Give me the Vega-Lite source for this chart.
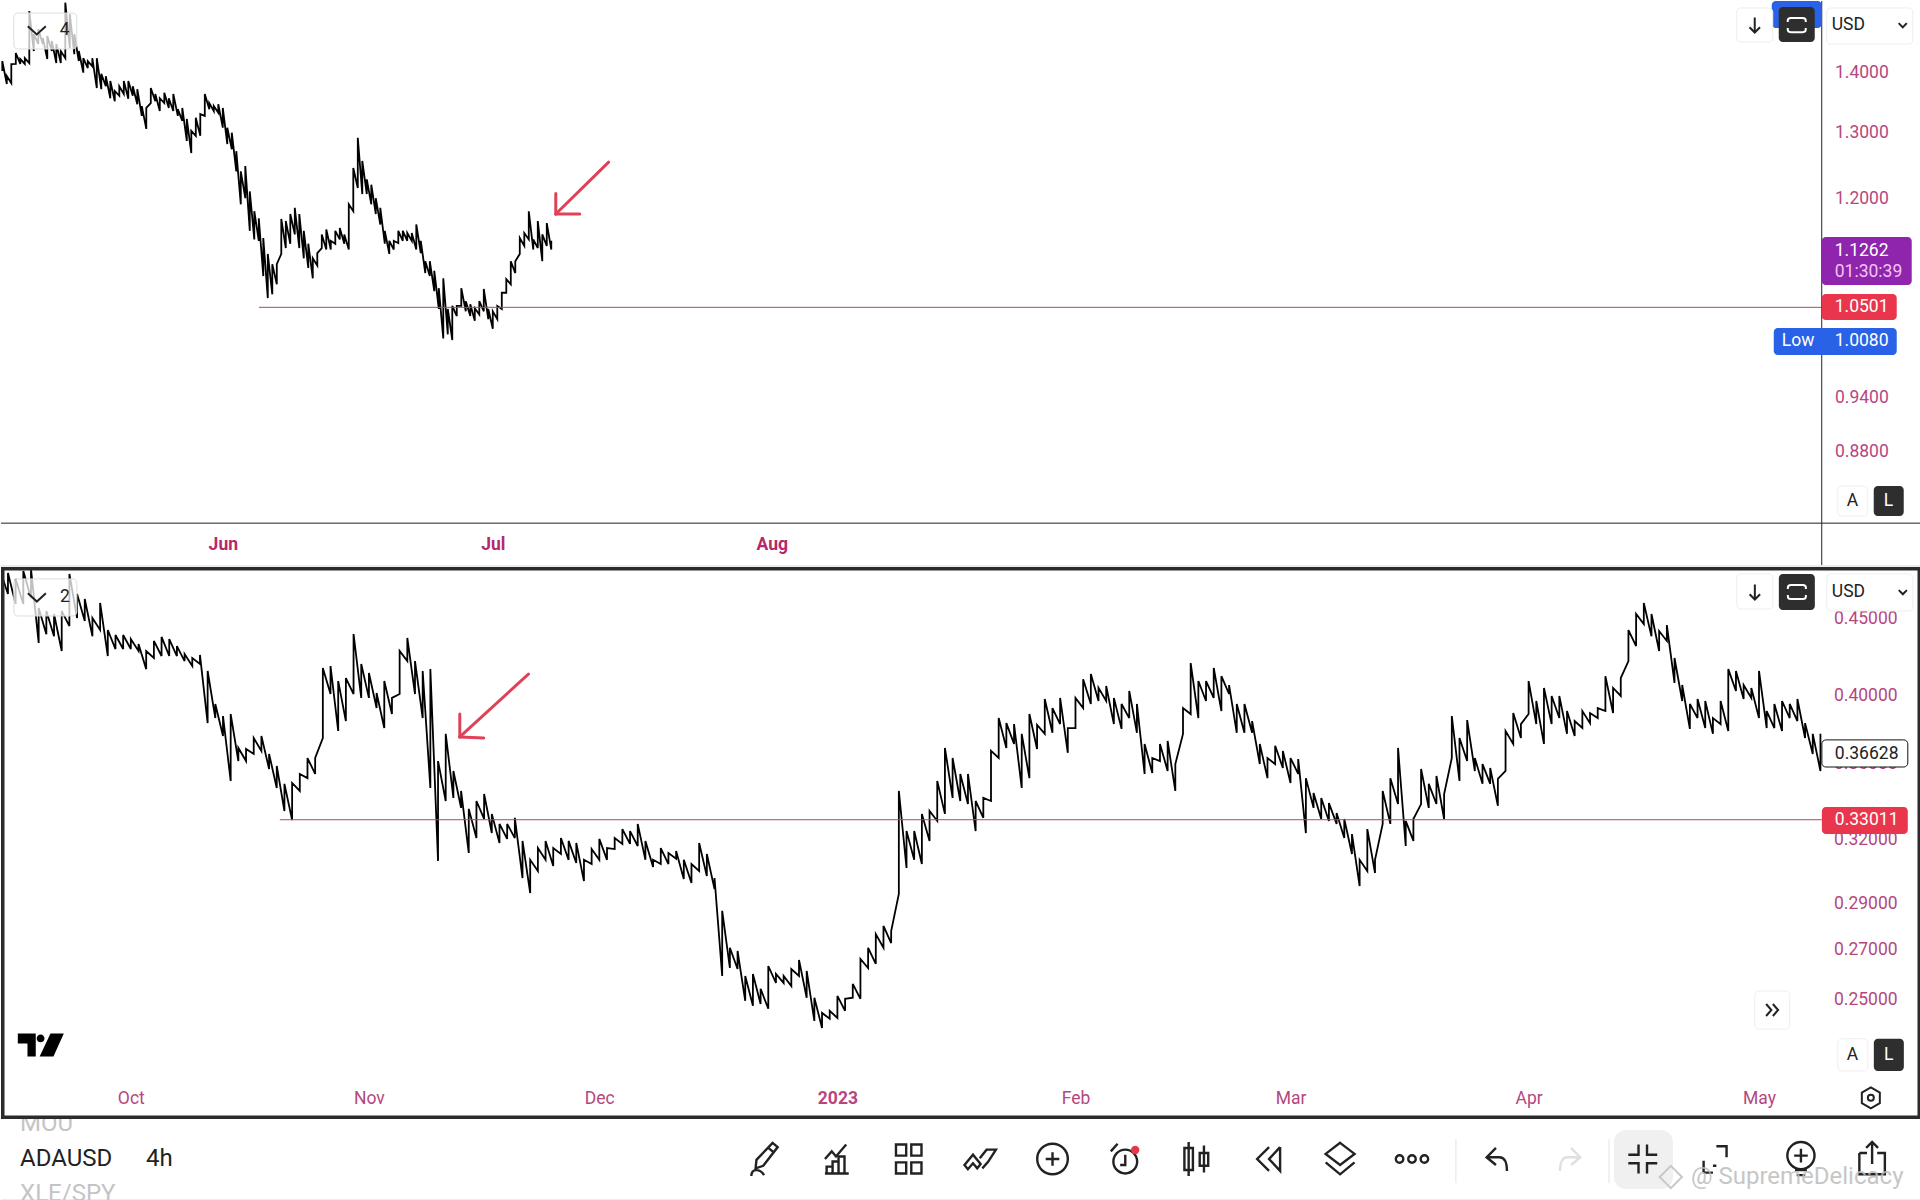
{
"$schema":"https://vega.github.io/schema/vega-lite/v6.json",
"padding":0,"spacing":0,"bounds":"flush","background":"white",
"config":{"font":"Roboto","view":{"stroke":null},"legend":{"disable":true},"axis":{"grid":false,"domain":false,"ticks":false,"tickSize":0,"minExtent":0,"maxExtent":0,"title":null,"labelOverlap":false,"labelBound":false,"labelFlush":false,"labelFontSize":17.5}},
"datasets":{
"top":[
{"t":"2022-05-07T12:00","l":1.4017,"h":1.419},{"t":"2022-05-08T00:00","l":1.3797,"h":1.3932},{"t":"2022-05-08T12:00","l":1.3813,"h":1.4138},{"t":"2022-05-09T00:00","l":1.414,"h":1.433},{"t":"2022-05-09T12:00","l":1.414,"h":1.4225},{"t":"2022-05-10T00:00","l":1.414,"h":1.424},{"t":"2022-05-10T12:00","l":1.4155,"h":1.5085},{"t":"2022-05-11T00:00","l":1.4365,"h":1.4667},{"t":"2022-05-11T12:00","l":1.449,"h":1.4757},{"t":"2022-05-12T00:00","l":1.449,"h":1.4596},{"t":"2022-05-12T12:00","l":1.4225,"h":1.463},{"t":"2022-05-13T00:00","l":1.4365,"h":1.4542},{"t":"2022-05-13T12:00","l":1.4155,"h":1.449},{"t":"2022-05-14T00:00","l":1.4155,"h":1.4365},{"t":"2022-05-14T12:00","l":1.424,"h":1.524},{"t":"2022-05-15T00:00","l":1.442,"h":1.503},{"t":"2022-05-15T12:00","l":1.431,"h":1.4667},{"t":"2022-05-16T00:00","l":1.419,"h":1.4365},{"t":"2022-05-16T12:00","l":1.399,"h":1.424},{"t":"2022-05-17T00:00","l":1.407,"h":1.419},{"t":"2022-05-17T12:00","l":1.41,"h":1.424},{"t":"2022-05-18T00:00","l":1.373,"h":1.424},{"t":"2022-05-18T12:00","l":1.371,"h":1.397},{"t":"2022-05-19T00:00","l":1.376,"h":1.393},{"t":"2022-05-19T12:00","l":1.356,"h":1.385},{"t":"2022-05-20T00:00","l":1.351,"h":1.368},{"t":"2022-05-20T12:00","l":1.36,"h":1.376},{"t":"2022-05-21T00:00","l":1.363,"h":1.385},{"t":"2022-05-21T12:00","l":1.355,"h":1.385},{"t":"2022-05-22T00:00","l":1.36,"h":1.376},{"t":"2022-05-22T12:00","l":1.346,"h":1.371},{"t":"2022-05-23T00:00","l":1.327,"h":1.343},{"t":"2022-05-23T12:00","l":1.306,"h":1.34},{"t":"2022-05-24T00:00","l":1.348,"h":1.373},{"t":"2022-05-24T12:00","l":1.351,"h":1.363},{"t":"2022-05-25T00:00","l":1.335,"h":1.356},{"t":"2022-05-25T12:00","l":1.348,"h":1.365},{"t":"2022-05-26T00:00","l":1.34,"h":1.356},{"t":"2022-05-26T12:00","l":1.335,"h":1.363},{"t":"2022-05-27T00:00","l":1.327,"h":1.338},{"t":"2022-05-27T12:00","l":1.319,"h":1.34},{"t":"2022-05-28T00:00","l":1.287,"h":1.322},{"t":"2022-05-28T12:00","l":1.268,"h":1.303},{"t":"2022-05-29T00:00","l":1.295,"h":1.324},{"t":"2022-05-29T12:00","l":1.295,"h":1.33},{"t":"2022-05-30T00:00","l":1.327,"h":1.363},{"t":"2022-05-30T12:00","l":1.338,"h":1.348},{"t":"2022-05-31T00:00","l":1.335,"h":1.343},{"t":"2022-05-31T12:00","l":1.332,"h":1.346},
{"t":"2022-06-01T00:00","l":1.308,"h":1.34},{"t":"2022-06-01T12:00","l":1.282,"h":1.308},{"t":"2022-06-02T00:00","l":1.274,"h":1.3},{"t":"2022-06-02T12:00","l":1.24,"h":1.271},{"t":"2022-06-03T00:00","l":1.191,"h":1.24},{"t":"2022-06-03T12:00","l":1.2,"h":1.248},{"t":"2022-06-04T00:00","l":1.153,"h":1.21},{"t":"2022-06-04T12:00","l":1.141,"h":1.181},{"t":"2022-06-05T00:00","l":1.139,"h":1.171},{"t":"2022-06-05T12:00","l":1.091,"h":1.143},{"t":"2022-06-06T00:00","l":1.062,"h":1.121},{"t":"2022-06-06T12:00","l":1.067,"h":1.107},{"t":"2022-06-07T00:00","l":1.08,"h":1.107},{"t":"2022-06-07T12:00","l":1.121,"h":1.17},{"t":"2022-06-08T00:00","l":1.129,"h":1.167},{"t":"2022-06-08T12:00","l":1.135,"h":1.177},{"t":"2022-06-09T00:00","l":1.148,"h":1.186},{"t":"2022-06-09T12:00","l":1.129,"h":1.177},{"t":"2022-06-10T00:00","l":1.115,"h":1.153},{"t":"2022-06-10T12:00","l":1.102,"h":1.135},{"t":"2022-06-11T00:00","l":1.088,"h":1.115},{"t":"2022-06-11T12:00","l":1.105,"h":1.122},{"t":"2022-06-12T00:00","l":1.129,"h":1.148},{"t":"2022-06-12T12:00","l":1.127,"h":1.155},{"t":"2022-06-13T00:00","l":1.127,"h":1.139},{"t":"2022-06-13T12:00","l":1.135,"h":1.153},{"t":"2022-06-14T00:00","l":1.141,"h":1.157},{"t":"2022-06-14T12:00","l":1.135,"h":1.148},{"t":"2022-06-15T00:00","l":1.127,"h":1.191},{"t":"2022-06-15T12:00","l":1.181,"h":1.245},{"t":"2022-06-16T00:00","l":1.215,"h":1.292},{"t":"2022-06-16T12:00","l":1.206,"h":1.256},{"t":"2022-06-17T00:00","l":1.206,"h":1.228},{"t":"2022-06-17T12:00","l":1.191,"h":1.22},{"t":"2022-06-18T00:00","l":1.177,"h":1.2},{"t":"2022-06-18T12:00","l":1.162,"h":1.186},{"t":"2022-06-19T00:00","l":1.135,"h":1.153},{"t":"2022-06-19T12:00","l":1.121,"h":1.139},{"t":"2022-06-20T00:00","l":1.127,"h":1.139},{"t":"2022-06-20T12:00","l":1.136,"h":1.153},{"t":"2022-06-21T00:00","l":1.139,"h":1.153},{"t":"2022-06-21T12:00","l":1.139,"h":1.15},{"t":"2022-06-22T00:00","l":1.139,"h":1.15},{"t":"2022-06-22T12:00","l":1.127,"h":1.162},{"t":"2022-06-23T00:00","l":1.122,"h":1.139},{"t":"2022-06-23T12:00","l":1.095,"h":1.111},{"t":"2022-06-24T00:00","l":1.091,"h":1.111},{"t":"2022-06-24T12:00","l":1.071,"h":1.098},{"t":"2022-06-25T00:00","l":1.048,"h":1.075},{"t":"2022-06-25T12:00","l":1.011,"h":1.088},{"t":"2022-06-26T00:00","l":1.016,"h":1.048},{"t":"2022-06-26T12:00","l":1.009,"h":1.052},{"t":"2022-06-27T00:00","l":1.039,"h":1.052},{"t":"2022-06-27T12:00","l":1.052,"h":1.075},{"t":"2022-06-28T00:00","l":1.045,"h":1.058},{"t":"2022-06-28T12:00","l":1.039,"h":1.054},{"t":"2022-06-29T00:00","l":1.033,"h":1.049},{"t":"2022-06-29T12:00","l":1.041,"h":1.058},{"t":"2022-06-30T00:00","l":1.045,"h":1.074},{"t":"2022-06-30T12:00","l":1.035,"h":1.048},
{"t":"2022-07-01T00:00","l":1.023,"h":1.045},{"t":"2022-07-01T12:00","l":1.035,"h":1.052},{"t":"2022-07-02T00:00","l":1.048,"h":1.069},{"t":"2022-07-02T12:00","l":1.069,"h":1.087},{"t":"2022-07-03T00:00","l":1.08,"h":1.111},{"t":"2022-07-03T12:00","l":1.095,"h":1.111},{"t":"2022-07-04T00:00","l":1.121,"h":1.143},{"t":"2022-07-04T12:00","l":1.132,"h":1.15},{"t":"2022-07-05T00:00","l":1.141,"h":1.181},{"t":"2022-07-05T12:00","l":1.127,"h":1.141},{"t":"2022-07-06T00:00","l":1.129,"h":1.167},{"t":"2022-07-06T12:00","l":1.111,"h":1.148},{"t":"2022-07-07T00:00","l":1.132,"h":1.164},{"t":"2022-07-07T12:00","l":1.127,"h":1.139}
],
"bottom":[
{"t":"2022-09-14","l":0.4685,"h":0.4846},{"t":"2022-09-15","l":0.4677,"h":0.4831},{"t":"2022-09-16","l":0.4606,"h":0.4787},{"t":"2022-09-17","l":0.4606,"h":0.4846},{"t":"2022-09-18","l":0.4649,"h":0.486},{"t":"2022-09-19","l":0.4337,"h":0.4577},{"t":"2022-09-20","l":0.4395,"h":0.4556},{"t":"2022-09-21","l":0.4381,"h":0.4535},{"t":"2022-09-22","l":0.4283,"h":0.4556},{"t":"2022-09-23","l":0.4451,"h":0.4824},{"t":"2022-09-24","l":0.4507,"h":0.4677},{"t":"2022-09-25","l":0.4486,"h":0.4641},{"t":"2022-09-26","l":0.4381,"h":0.4507},{"t":"2022-09-27","l":0.4424,"h":0.4613},{"t":"2022-09-28","l":0.425,"h":0.4424},{"t":"2022-09-29","l":0.4296,"h":0.439},{"t":"2022-09-30","l":0.4296,"h":0.439},
{"t":"2022-10-01","l":0.4296,"h":0.4363},{"t":"2022-10-02","l":0.4283,"h":0.433},{"t":"2022-10-03","l":0.4165,"h":0.4283},{"t":"2022-10-04","l":0.4237,"h":0.435},{"t":"2022-10-05","l":0.425,"h":0.4377},{"t":"2022-10-06","l":0.425,"h":0.4363},{"t":"2022-10-07","l":0.425,"h":0.4316},{"t":"2022-10-08","l":0.4217,"h":0.4263},{"t":"2022-10-09","l":0.4185,"h":0.4237},{"t":"2022-10-10","l":0.4198,"h":0.4257},{"t":"2022-10-11","l":0.3832,"h":0.4153},{"t":"2022-10-12","l":0.3862,"h":0.3947},{"t":"2022-10-13","l":0.3757,"h":0.3874},{"t":"2022-10-14","l":0.3505,"h":0.3886},{"t":"2022-10-15","l":0.3614,"h":0.3688},{"t":"2022-10-16","l":0.3614,"h":0.3682},{"t":"2022-10-17","l":0.3654,"h":0.3745},{"t":"2022-10-18","l":0.3671,"h":0.3757},{"t":"2022-10-19","l":0.357,"h":0.3654},{"t":"2022-10-20","l":0.3467,"h":0.3587},{"t":"2022-10-21","l":0.3346,"h":0.3489},{"t":"2022-10-22","l":0.33,"h":0.3494},{"t":"2022-10-23","l":0.3451,"h":0.3543},{"t":"2022-10-24","l":0.352,"h":0.3631},{"t":"2022-10-25","l":0.3543,"h":0.3631},{"t":"2022-10-26","l":0.3745,"h":0.4172},{"t":"2022-10-27","l":0.4008,"h":0.4185},{"t":"2022-10-28","l":0.3786,"h":0.4089},{"t":"2022-10-29","l":0.3844,"h":0.4108},{"t":"2022-10-30","l":0.4008,"h":0.4397},{"t":"2022-10-31","l":0.3984,"h":0.4198},
{"t":"2022-11-01","l":0.3984,"h":0.414},{"t":"2022-11-02","l":0.3922,"h":0.4014},{"t":"2022-11-03","l":0.3803,"h":0.4089},{"t":"2022-11-04","l":0.3886,"h":0.3984},{"t":"2022-11-05","l":0.4008,"h":0.4283},{"t":"2022-11-06","l":0.4217,"h":0.437},{"t":"2022-11-07","l":0.4008,"h":0.4217},{"t":"2022-11-08","l":0.3862,"h":0.4153},{"t":"2022-11-09","l":0.3467,"h":0.4165},{"t":"2022-11-10","l":0.3098,"h":0.3614},{"t":"2022-11-11","l":0.3398,"h":0.3769},{"t":"2022-11-12","l":0.3414,"h":0.3559},{"t":"2022-11-13","l":0.3362,"h":0.3451},{"t":"2022-11-14","l":0.3136,"h":0.3357},{"t":"2022-11-15","l":0.3209,"h":0.3398},{"t":"2022-11-16","l":0.3305,"h":0.3435},{"t":"2022-11-17","l":0.3234,"h":0.3331},{"t":"2022-11-18","l":0.3185,"h":0.328},{"t":"2022-11-19","l":0.3205,"h":0.328},{"t":"2022-11-20","l":0.3209,"h":0.3311},{"t":"2022-11-21","l":0.3017,"h":0.3195},{"t":"2022-11-22","l":0.2948,"h":0.3103},{"t":"2022-11-23","l":0.305,"h":0.316},{"t":"2022-11-24","l":0.3103,"h":0.3195},{"t":"2022-11-25","l":0.3074,"h":0.316},{"t":"2022-11-26","l":0.3131,"h":0.3209},{"t":"2022-11-27","l":0.3103,"h":0.3195},{"t":"2022-11-28","l":0.3088,"h":0.3185},{"t":"2022-11-29","l":0.3003,"h":0.3103},{"t":"2022-11-30","l":0.3083,"h":0.3155},
{"t":"2022-12-01","l":0.3103,"h":0.3205},{"t":"2022-12-02","l":0.3103,"h":0.316},{"t":"2022-12-03","l":0.3155,"h":0.3209},{"t":"2022-12-04","l":0.318,"h":0.3254},{"t":"2022-12-05","l":0.318,"h":0.3244},{"t":"2022-12-06","l":0.317,"h":0.328},{"t":"2022-12-07","l":0.3103,"h":0.3195},{"t":"2022-12-08","l":0.3069,"h":0.3103},{"t":"2022-12-09","l":0.3083,"h":0.316},{"t":"2022-12-10","l":0.3083,"h":0.3136},{"t":"2022-12-11","l":0.3108,"h":0.3146},{"t":"2022-12-12","l":0.3012,"h":0.3103},{"t":"2022-12-13","l":0.2994,"h":0.3083},{"t":"2022-12-14","l":0.305,"h":0.3185},{"t":"2022-12-15","l":0.3026,"h":0.3131},{"t":"2022-12-16","l":0.2966,"h":0.3017},{"t":"2022-12-17","l":0.2594,"h":0.2868},{"t":"2022-12-18","l":0.2626,"h":0.2709},{"t":"2022-12-19","l":0.2622,"h":0.2696},{"t":"2022-12-20","l":0.2496,"h":0.2594},{"t":"2022-12-21","l":0.2477,"h":0.2602},{"t":"2022-12-22","l":0.2484,"h":0.2543},{"t":"2022-12-23","l":0.2466,"h":0.2634},{"t":"2022-12-24","l":0.2566,"h":0.2602},{"t":"2022-12-25","l":0.2566,"h":0.2594},{"t":"2022-12-26","l":0.2554,"h":0.2622},{"t":"2022-12-27","l":0.2594,"h":0.2659},{"t":"2022-12-28","l":0.2508,"h":0.2614},{"t":"2022-12-29","l":0.242,"h":0.2508},{"t":"2022-12-30","l":0.2394,"h":0.245},{"t":"2022-12-31","l":0.2428,"h":0.2458},
{"t":"2023-01-01","l":0.2431,"h":0.2515},{"t":"2023-01-02","l":0.2458,"h":0.2504},{"t":"2023-01-03","l":0.2508,"h":0.2562},{"t":"2023-01-04","l":0.2504,"h":0.2663},{"t":"2023-01-05","l":0.2626,"h":0.2709},{"t":"2023-01-06","l":0.2643,"h":0.2767},{"t":"2023-01-07","l":0.2709,"h":0.2802},{"t":"2023-01-08","l":0.2729,"h":0.278},{"t":"2023-01-09","l":0.2944,"h":0.3451},{"t":"2023-01-10","l":0.3064,"h":0.3244},{"t":"2023-01-11","l":0.3103,"h":0.3244},{"t":"2023-01-12","l":0.3083,"h":0.3331},{"t":"2023-01-13","l":0.3195,"h":0.3346},{"t":"2023-01-14","l":0.3295,"h":0.3505},{"t":"2023-01-15","l":0.3331,"h":0.3688},{"t":"2023-01-16","l":0.3414,"h":0.3631},{"t":"2023-01-17","l":0.3398,"h":0.3543},{"t":"2023-01-18","l":0.3382,"h":0.3543},{"t":"2023-01-19","l":0.3244,"h":0.3398},{"t":"2023-01-20","l":0.3311,"h":0.3414},{"t":"2023-01-21","l":0.3398,"h":0.3671},{"t":"2023-01-22","l":0.3631,"h":0.3862},{"t":"2023-01-23","l":0.3688,"h":0.3832},{"t":"2023-01-24","l":0.3711,"h":0.3826},{"t":"2023-01-25","l":0.3467,"h":0.3769},{"t":"2023-01-26","l":0.352,"h":0.3886},{"t":"2023-01-27","l":0.3682,"h":0.3821},{"t":"2023-01-28","l":0.3769,"h":0.3977},{"t":"2023-01-29","l":0.3775,"h":0.3922},{"t":"2023-01-30","l":0.3826,"h":0.3984},{"t":"2023-01-31","l":0.366,"h":0.3803},
{"t":"2023-02-01","l":0.3803,"h":0.3984},{"t":"2023-02-02","l":0.3922,"h":0.4101},{"t":"2023-02-03","l":0.3947,"h":0.4133},{"t":"2023-02-04","l":0.3965,"h":0.4046},{"t":"2023-02-05","l":0.3965,"h":0.4058},{"t":"2023-02-06","l":0.3826,"h":0.3984},{"t":"2023-02-07","l":0.3798,"h":0.3947},{"t":"2023-02-08","l":0.3862,"h":0.4027},{"t":"2023-02-09","l":0.3775,"h":0.3947},{"t":"2023-02-10","l":0.3543,"h":0.3711},{"t":"2023-02-11","l":0.3548,"h":0.3631},{"t":"2023-02-12","l":0.3614,"h":0.3711},{"t":"2023-02-13","l":0.3559,"h":0.3728},{"t":"2023-02-14","l":0.3451,"h":0.3597},{"t":"2023-02-15","l":0.3769,"h":0.3922},{"t":"2023-02-16","l":0.3886,"h":0.4204},{"t":"2023-02-17","l":0.3862,"h":0.4089},{"t":"2023-02-18","l":0.3965,"h":0.4089},{"t":"2023-02-19","l":0.3984,"h":0.4172},{"t":"2023-02-20","l":0.3904,"h":0.412},{"t":"2023-02-21","l":0.4008,"h":0.4064},{"t":"2023-02-22","l":0.3775,"h":0.3947},{"t":"2023-02-23","l":0.3775,"h":0.3947},{"t":"2023-02-24","l":0.3775,"h":0.3844},{"t":"2023-02-25","l":0.3597,"h":0.3711},{"t":"2023-02-26","l":0.352,"h":0.3631},{"t":"2023-02-27","l":0.3597,"h":0.37},{"t":"2023-02-28","l":0.3576,"h":0.3671},
{"t":"2023-03-01","l":0.3494,"h":0.3631},{"t":"2023-03-02","l":0.3543,"h":0.3625},{"t":"2023-03-03","l":0.3234,"h":0.352},{"t":"2023-03-04","l":0.3362,"h":0.344},{"t":"2023-03-05","l":0.3305,"h":0.3414},{"t":"2023-03-06","l":0.3295,"h":0.3387},{"t":"2023-03-07","l":0.328,"h":0.3336},{"t":"2023-03-08","l":0.3209,"h":0.3305},{"t":"2023-03-09","l":0.3131,"h":0.3229},{"t":"2023-03-10","l":0.298,"h":0.3103},{"t":"2023-03-11","l":0.305,"h":0.3254},{"t":"2023-03-12","l":0.3041,"h":0.3103},{"t":"2023-03-13","l":0.328,"h":0.3451},{"t":"2023-03-14","l":0.328,"h":0.352},{"t":"2023-03-15","l":0.3382,"h":0.3688},{"t":"2023-03-16","l":0.317,"h":0.3295},{"t":"2023-03-17","l":0.3195,"h":0.3305},{"t":"2023-03-18","l":0.3382,"h":0.357},{"t":"2023-03-19","l":0.3362,"h":0.3489},{"t":"2023-03-20","l":0.3382,"h":0.3532},{"t":"2023-03-21","l":0.3305,"h":0.3435},{"t":"2023-03-22","l":0.3631,"h":0.3874},{"t":"2023-03-23","l":0.3505,"h":0.3745},{"t":"2023-03-24","l":0.3614,"h":0.385},{"t":"2023-03-25","l":0.3559,"h":0.3631},{"t":"2023-03-26","l":0.3489,"h":0.3597},{"t":"2023-03-27","l":0.3489,"h":0.3576},{"t":"2023-03-28","l":0.3373,"h":0.3516},{"t":"2023-03-29","l":0.3559,"h":0.3786},{"t":"2023-03-30","l":0.3711,"h":0.3892},{"t":"2023-03-31","l":0.3745,"h":0.3826},
{"t":"2023-04-01","l":0.3886,"h":0.4089},{"t":"2023-04-02","l":0.3826,"h":0.3965},{"t":"2023-04-03","l":0.3711,"h":0.4046},{"t":"2023-04-04","l":0.3826,"h":0.3996},{"t":"2023-04-05","l":0.3862,"h":0.3996},{"t":"2023-04-06","l":0.3769,"h":0.3904},{"t":"2023-04-07","l":0.3757,"h":0.3844},{"t":"2023-04-08","l":0.3803,"h":0.3904},{"t":"2023-04-09","l":0.3832,"h":0.3892},{"t":"2023-04-10","l":0.3862,"h":0.3922},{"t":"2023-04-11","l":0.3904,"h":0.412},{"t":"2023-04-12","l":0.3892,"h":0.4046},{"t":"2023-04-13","l":0.3996,"h":0.4108},{"t":"2023-04-14","l":0.4217,"h":0.4424},{"t":"2023-04-15","l":0.4316,"h":0.4535},{"t":"2023-04-16","l":0.4465,"h":0.4613},{"t":"2023-04-17","l":0.4381,"h":0.4535},{"t":"2023-04-18","l":0.4283,"h":0.4417},{"t":"2023-04-19","l":0.435,"h":0.4458},{"t":"2023-04-20","l":0.4077,"h":0.4237},{"t":"2023-04-21","l":0.3965,"h":0.4064},{"t":"2023-04-22","l":0.3798,"h":0.3947},{"t":"2023-04-23","l":0.3862,"h":0.3977},{"t":"2023-04-24","l":0.3803,"h":0.3965},{"t":"2023-04-25","l":0.3769,"h":0.3862},{"t":"2023-04-26","l":0.3826,"h":0.3965},{"t":"2023-04-27","l":0.3786,"h":0.4165},{"t":"2023-04-28","l":0.4027,"h":0.4153},{"t":"2023-04-29","l":0.3977,"h":0.4064},{"t":"2023-04-30","l":0.3984,"h":0.4046},
{"t":"2023-05-01","l":0.3862,"h":0.4153},{"t":"2023-05-02","l":0.3803,"h":0.3904},{"t":"2023-05-03","l":0.3803,"h":0.3947},{"t":"2023-05-04","l":0.3786,"h":0.3965},{"t":"2023-05-05","l":0.3862,"h":0.3947},{"t":"2023-05-06","l":0.3844,"h":0.3977},{"t":"2023-05-07","l":0.3745,"h":0.3832},{"t":"2023-05-08","l":0.3654,"h":0.3769},{"t":"2023-05-09","l":0.3559,"h":0.3769}
]
},
"vconcat":[
{"width":1920,"height":566,"layer":[
{"data":{"name":"top"},"transform":[{"fold":["l","h"],"as":["side","price"]}],"mark":{"type":"line","color":"#000","strokeWidth":1.8,"clip":true},"encoding":{
"x":{"field":"t","type":"temporal","scale":{"domain":[{"year":2022,"month":5,"date":7,"hours":8,"minutes":32},{"year":2022,"month":12,"date":6,"hours":16,"minutes":42}]},"axis":{"values":[{"year":2022,"month":6,"date":1},{"year":2022,"month":7,"date":1},{"year":2022,"month":8,"date":1}],"format":"%b","labelColor":"#b7286a","labelFontWeight":"bold","labelPadding":-23,"labelBaseline":"middle","labelAlign":"center"}},
"y":{"field":"price","type":"quantitative","scale":{"type":"log","domain":[0.7645,1.5271],"nice":false},"axis":{"orient":"right","values":[1.4,1.3,1.2,0.94,0.88],"format":".4f","labelColor":"#b5477f","labelPadding":-86.5,"labelAlign":"left"}}}},
{"data":{"values":[{"t":"2022-06-05T00:30","t2":"2022-11-25T16:00","p":1.0501,"p2":1.0501,"kind":"level"},{"t":"2022-05-07T08:32","t2":"2022-12-06T16:42","p":0.8066,"p2":0.8066,"kind":"frame"},{"t":"2022-11-25T16:00","t2":"2022-11-25T16:00","p":1.5271,"p2":0.7663,"kind":"frame"}]},"mark":{"type":"rule","strokeWidth":1},"encoding":{"x":{"field":"t","type":"temporal"},"x2":{"field":"t2"},"y":{"field":"p","type":"quantitative"},"y2":{"field":"p2"},"color":{"field":"kind","type":"nominal","scale":{"domain":["level","frame","ink","white","hint","faint","muted"],"range":["#b5475a","#222222","#222222","#ffffff","#f3c4f3","#c4c4c4","#e0e0e0"]}}}},
{"data":{"values":[{"t":"2022-07-13T21:00","t2":"2022-07-08T00:00","p":1.254,"p2":1.177},{"t":"2022-07-08T00:00","t2":"2022-07-08T00:00","p":1.207,"p2":1.177},{"t":"2022-07-10T16:00","t2":"2022-07-08T00:00","p":1.177,"p2":1.177}]},"mark":{"type":"rule","color":"#df4257","strokeWidth":3,"strokeCap":"round"},"encoding":{"x":{"field":"t","type":"temporal"},"x2":{"field":"t2"},"y":{"field":"p","type":"quantitative"},"y2":{"field":"p2"}}},
{"data":{"values":[
{"t":"2022-05-08T18:40","t2":"2022-05-15T18:40","p":1.5048,"p2":1.4401,"kind":"legend"},
{"t":"2022-11-20T02:40","t2":"2022-11-25T16:00","p":1.5271,"p2":1.4775,"kind":"blue"},
{"t":"2022-11-16T05:20","t2":"2022-11-20T05:20","p":1.5141,"p2":1.4524,"kind":"button"},
{"t":"2022-11-20T21:20","t2":"2022-11-24T21:20","p":1.5159,"p2":1.4524,"kind":"dark"},
{"t":"2022-11-26T05:20","t2":"2022-12-05T18:40","p":1.5141,"p2":1.4488,"kind":"button"},
{"t":"2022-11-25T16:00","t2":"2022-12-05T16:00","p":1.1444,"p2":1.0792,"kind":"purple"},
{"t":"2022-11-25T16:00","t2":"2022-12-04T00:00","p":1.0673,"p2":1.034,"kind":"red"},
{"t":"2022-11-20T08:00","t2":"2022-12-04T00:00","p":1.0239,"p2":0.9906,"kind":"blue"},
{"t":"2022-11-27T10:40","t2":"2022-11-30T18:40","p":0.844,"p2":0.8136,"kind":"button"},
{"t":"2022-12-01T10:40","t2":"2022-12-04T18:40","p":0.844,"p2":0.8136,"kind":"dark"},
{"t":"2022-05-07T08:32","t2":"2022-12-06T16:42","p":0.7663,"p2":0.7645,"kind":"gap"}
]},"mark":{"type":"rect","cornerRadius":4,"strokeWidth":1},"encoding":{"x":{"field":"t","type":"temporal"},"x2":{"field":"t2"},"y":{"field":"p","type":"quantitative"},"y2":{"field":"p2"},
"fill":{"field":"kind","type":"nominal","scale":{"domain":["legend","blue","button","dark","purple","red","gap","tag"],"range":["rgba(255,255,255,0.75)","#2962e6","#ffffff","#2e2e2e","#8f25ad","#e9364c","#ececec","#ffffff"]}},
"stroke":{"field":"kind","type":"nominal","scale":{"domain":["legend","blue","button","dark","purple","red","gap","tag"],"range":["#dddddd","transparent","#eeeeee","transparent","transparent","transparent","transparent","#111111"]}}}},
{"data":{"values":[
{"t":"2022-05-11T08:00","p":1.4739,"icon":"chevron","kind":"ink"},{"t":"2022-11-18T05:20","p":1.4828,"icon":"down","kind":"ink"},{"t":"2022-11-22T21:20","p":1.4828,"icon":"expand","kind":"white"},{"t":"2022-12-04T16:00","p":1.4828,"icon":"small","kind":"ink"}
]},"mark":{"type":"point","filled":false,"size":900,"strokeWidth":2,"opacity":1},"encoding":{"x":{"field":"t","type":"temporal"},"y":{"field":"p","type":"quantitative"},
"shape":{"field":"icon","type":"nominal","scale":{"domain":["chevron","small","down","expand","more","gear","pencil","indicators","grid","trend","plus","alarm","candles","rewind","layers","dots","undo","redo","collapse","crop","bulb","share"],"range":[
"M-.6 -.25 L0 .3 L.6 -.25",
"M-.27 -.13 L0 .15 L.27 -.13",
"M0 -.5 V.5 M-.35 .15 L0 .5 L.35 .15",
"M-.6 -.2 V-.3 Q-.6 -.47 -.4 -.47 H.4 Q.6 -.47 .6 -.3 V-.2 M-.6 .2 V.3 Q-.6 .47 -.4 .47 H.4 Q.6 .47 .6 .3 V.2",
"M-.4 -.4 L-.05 0 L-.4 .4 M.05 -.4 L.4 0 L.05 .4",
"M0 -.7 L.6 -.35 V.35 L0 .7 L-.6 .35 V-.35 Z M-.2 0 A.2 .2 0 1 1 .2 0 A.2 .2 0 1 1 -.2 0 Z",
"M.45 -.95 L.75 -.7 L-.1 .4 L-.55 .55 L-.5 .05 Z M.2 -.65 L.5 -.4 M-.8 1 C-.8 .55 -.3 .55 -.05 .95",
"M-.7 .85 H.7 M-.6 .85 V.45 H-.25 V.85 M-.25 .85 V.15 H.1 V.85 M.1 .85 V-.15 H.45 V.85 M-.7 0 L-.3 -.45 L-.05 -.15 L.55 -.85",
"M-.75 -.85 H-.15 V-.2 H-.75 Z M.15 -.85 H.75 V-.2 H.15 Z M-.75 .2 H-.15 V.85 H-.75 Z M.15 .2 H.75 V.85 H.15 Z",
"M-.95 .35 L-.45 -.25 L0 .3 L-.2 .55 L-.45 .25 L-.75 .6 Z M-.05 -.05 L.35 -.55 L.9 -.55 L.45 .15 L.1 .55",
"M-.9 0 A.9 .9 0 1 1 .9 0 A.9 .9 0 1 1 -.9 0 Z M-.4 0 H.4 M0 -.4 V.4",
"M-.65 .15 A.7 .7 0 1 1 .75 .15 A.7 .7 0 1 1 -.65 .15 Z M.05 -.25 V.35 H-.25 M-.8 -.45 L-.4 -.9",
"M-.45 -1 V1 M-.7 -.65 H-.2 V.65 H-.7 Z M.45 -.8 V.8 M.2 -.35 H.7 V.4 H.2 Z",
"M.05 -.7 L-.65 0 L.05 .7 M.7 -.7 L.05 0 L.7 .7 V-.7",
"M0 -.95 L.85 -.3 L0 .35 L-.85 -.3 Z M-.85 .2 L0 .9 L.85 .2",
"M-.95 0 A.22 .22 0 1 1 -.51 0 A.22 .22 0 1 1 -.95 0 Z M-.22 0 A.22 .22 0 1 1 .22 0 A.22 .22 0 1 1 -.22 0 Z M.51 0 A.22 .22 0 1 1 .95 0 A.22 .22 0 1 1 .51 0 Z",
"M-.05 -.65 L-.6 -.1 L-.05 .35 M-.6 -.1 H.15 C.5 -.1 .6 .3 .6 .7",
"M.05 -.65 L.6 -.1 L.05 .35 M.6 -.1 H-.15 C-.5 -.1 -.6 .3 -.6 .7",
"M-.25 -.85 V-.25 H-.85 M.25 -.85 V-.25 H.85 M-.85 .25 H-.25 V.85 M.85 .25 H.25 V.85",
"M.1 -.75 H.7 V-.1 M-.65 .1 V.8 M-.1 .4 H.1 M-.65 .8 H-.1",
"M-.8 -.2 A.8 .8 0 1 1 .8 -.2 A.8 .8 0 1 1 -.8 -.2 Z M-.4 -.2 H.4 M0 -.6 V.2 M-.35 .65 H.35 M-.25 .95 H.25",
"M-.75 -.35 H-.3 M.3 -.35 H.75 V.9 H-.75 V-.35 M0 .3 V-1 M-.35 -.65 L0 -1 L.35 -.65"]}},
"color":{"field":"kind","type":"nominal"}}},
{"data":{"values":[
{"t":"2022-05-13T21:20","p":1.4739,"label":"4","kind":"ink"},{"t":"2022-11-26T18:40","p":1.4828,"label":"USD","kind":"ink"},
{"t":"2022-11-27T02:40","p":1.1249,"label":"1.1262","kind":"white"},{"t":"2022-11-27T02:40","p":1.0965,"label":"01:30:39","kind":"hint"},
{"t":"2022-11-27T02:40","p":1.0501,"label":"1.0501","kind":"white"},{"t":"2022-11-21T05:20","p":1.008,"label":"Low","kind":"white"},{"t":"2022-11-27T02:40","p":1.008,"label":"1.0080","kind":"white"},
{"t":"2022-11-28T10:40","p":0.8288,"label":"A","kind":"ink"},{"t":"2022-12-02T13:20","p":0.8288,"label":"L","kind":"white"}
]},"mark":{"type":"text","align":"left","baseline":"middle","fontSize":17.5},"encoding":{"x":{"field":"t","type":"temporal"},"y":{"field":"p","type":"quantitative"},"text":{"field":"label"},"color":{"field":"kind","type":"nominal"}}}
]},
{"width":1920,"height":552,"layer":[
{"data":{"name":"bottom"},"transform":[{"fold":["l","h"],"as":["side","price"]}],"mark":{"type":"line","color":"#000","strokeWidth":1.8,"clip":true},"encoding":{
"x":{"field":"t","type":"temporal","scale":{"domain":[{"year":2022,"month":9,"date":14,"hours":2,"minutes":15},{"year":2023,"month":5,"date":22,"hours":2,"minutes":15}]},"axis":{"values":[{"year":2022,"month":10,"date":1},{"year":2022,"month":11,"date":1},{"year":2022,"month":12,"date":1},{"year":2023,"month":1,"date":1},{"year":2023,"month":2,"date":1},{"year":2023,"month":3,"date":1},{"year":2023,"month":4,"date":1},{"year":2023,"month":5,"date":1}],"labelExpr":"month(datum.value)==0 ? '2023' : timeFormat(datum.value,'%b')","labelFontWeight":{"condition":{"test":"month(datum.value)==0","value":"bold"},"value":"normal"},"labelColor":"#b5477f","labelPadding":-21,"labelBaseline":"middle","labelAlign":"center"}},
"y":{"field":"price","type":"quantitative","scale":{"type":"log","domain":[0.208,0.4876],"nice":false},"axis":{"orient":"right","values":[0.45,0.4,0.36,0.32,0.29,0.27,0.25],"format":".5f","labelColor":"#b5477f","labelPadding":-87.5,"labelAlign":"left"}}}},
{"data":{"values":[{"t":"2022-10-20T09:40","t2":"2023-05-09T04:30","p":0.33011,"p2":0.33011}]},"mark":{"type":"rule","strokeWidth":1,"color":"#b5475a"},"encoding":{"x":{"field":"t","type":"temporal"},"x2":{"field":"t2"},"y":{"field":"p","type":"quantitative"},"y2":{"field":"p2"}}},
{"data":{"values":[{"t":"2022-11-21T18:30","t2":"2022-11-12T20:00","p":0.4133,"p2":0.3751},{"t":"2022-11-12T20:00","t2":"2022-11-12T20:00","p":0.3886,"p2":0.3751},{"t":"2022-11-15T23:00","t2":"2022-11-12T20:00","p":0.3745,"p2":0.3751}]},"mark":{"type":"rule","color":"#df4257","strokeWidth":3,"strokeCap":"round"},"encoding":{"x":{"field":"t","type":"temporal"},"x2":{"field":"t2"},"y":{"field":"p","type":"quantitative"},"y2":{"field":"p2"}}},
{"data":{"values":[
{"t":"2022-09-15T18:30","t2":"2022-09-23T23:20","p":0.4787,"p2":0.4521,"kind":"legend"},
{"t":"2023-04-28T02:30","t2":"2023-05-02T19:00","p":0.4824,"p2":0.457,"kind":"button"},
{"t":"2023-05-03T14:00","t2":"2023-05-08T06:30","p":0.4824,"p2":0.4563,"kind":"dark"},
{"t":"2023-05-09T20:00","t2":"2023-05-21T00:40","p":0.4824,"p2":0.4556,"kind":"button"},
{"t":"2023-05-09T04:30","t2":"2023-05-20T09:00","p":0.3734,"p2":0.3581,"kind":"tag"},
{"t":"2023-05-09T04:30","t2":"2023-05-20T09:00","p":0.3367,"p2":0.3229,"kind":"red"},
{"t":"2023-05-11T06:30","t2":"2023-05-15T04:00","p":0.2354,"p2":0.224,"kind":"button"},
{"t":"2023-05-15T22:50","t2":"2023-05-19T20:40","p":0.2354,"p2":0.224,"kind":"dark"},
{"t":"2023-04-30T11:00","t2":"2023-05-05T00:00","p":0.2534,"p2":0.239,"kind":"button"}
]},"mark":{"type":"rect","cornerRadius":4,"strokeWidth":1},"encoding":{"x":{"field":"t","type":"temporal"},"x2":{"field":"t2"},"y":{"field":"p","type":"quantitative"},"y2":{"field":"p2"},
"fill":{"field":"kind","type":"nominal"},
"stroke":{"field":"kind","type":"nominal"}}},
{"data":{"values":[
{"t":"2022-09-18T18:20","p":0.4655,"icon":"chevron","kind":"ink"},{"t":"2023-04-30T11:00","p":0.4691,"icon":"down","kind":"ink"},{"t":"2023-05-05T22:20","p":0.4691,"icon":"expand","kind":"white"},{"t":"2023-05-19T17:30","p":0.4691,"icon":"small","kind":"ink"},{"t":"2023-05-02T17:00","p":0.2461,"icon":"more","kind":"ink"},{"t":"2023-05-15T13:30","p":0.2149,"icon":"gear","kind":"ink"}
]},"mark":{"type":"point","filled":false,"size":900,"strokeWidth":2,"opacity":1},"encoding":{"x":{"field":"t","type":"temporal"},"y":{"field":"p","type":"quantitative"},"shape":{"field":"icon","type":"nominal"},"color":{"field":"kind","type":"nominal"}}},
{"data":{"values":[{"t":"2022-09-19T06:40","p":0.2332,"icon":"logo"}]},"mark":{"type":"point","filled":true,"size":2116,"color":"#000","opacity":1,"shape":"M-1 -.5 H-.22 V.5 H-.58 V-.06 H-1 Z M-.18 -.28 A.17 .17 0 1 1 .16 -.28 A.17 .17 0 1 1 -.18 -.28 Z M.42 -.5 H1 L.55 .5 H-.05 Z"},"encoding":{"x":{"field":"t","type":"temporal"},"y":{"field":"p","type":"quantitative"}}},
{"data":{"values":[
{"t":"2022-09-21T18:20","p":0.4655,"label":"2","kind":"ink"},{"t":"2023-05-10T11:30","p":0.4691,"label":"USD","kind":"ink"},
{"t":"2023-05-10T21:00","p":0.3656,"label":"0.36628","kind":"ink"},{"t":"2023-05-10T21:00","p":0.33011,"label":"0.33011","kind":"white"},
{"t":"2023-05-12T10:30","p":0.2296,"label":"A","kind":"ink"},{"t":"2023-05-17T06:20","p":0.2296,"label":"L","kind":"white"}
]},"mark":{"type":"text","align":"left","baseline":"middle","fontSize":17.5},"encoding":{"x":{"field":"t","type":"temporal"},"y":{"field":"p","type":"quantitative"},"text":{"field":"label"},"color":{"field":"kind","type":"nominal"}}},
{"data":{"values":[
{"t":"2022-09-14T02:15","t2":"2022-09-14T02:15","p":0.4876,"p2":0.208},
{"t":"2023-05-22T02:15","t2":"2023-05-22T02:15","p":0.4876,"p2":0.208},
{"t":"2022-09-14T02:15","t2":"2023-05-22T02:15","p":0.4876,"p2":0.4876},
{"t":"2022-09-14T02:15","t2":"2023-05-22T02:15","p":0.208,"p2":0.208}
]},"mark":{"type":"rule","color":"#2b2b2b","strokeWidth":7,"clip":true},"encoding":{"x":{"field":"t","type":"temporal"},"x2":{"field":"t2"},"y":{"field":"p","type":"quantitative"},"y2":{"field":"p2"}}}
]},
{"width":1920,"height":82,"layer":[
{"data":{"values":[{"slot":11.81,"slot2":12.63,"row":-0.83,"row2":0.857}]},"mark":{"type":"rect","cornerRadius":12,"color":"#f0f0f0"},"encoding":{
"x":{"field":"slot","type":"quantitative","scale":{"domain":[-10.626,16.08],"nice":false,"zero":false},"axis":null},"x2":{"field":"slot2"},
"y":{"field":"row","type":"quantitative","scale":{"domain":[-1.143,1.2],"reverse":true,"nice":false,"zero":false},"axis":null},"y2":{"field":"row2"}}},
{"data":{"values":[
{"slot":-10.626,"slot2":16.08,"row":1.143,"row2":1.2},
{"slot":9.6,"slot2":9.62,"row":-0.571,"row2":0.686},
{"slot":11.73,"slot2":11.75,"row":-0.571,"row2":0.686}
]},"mark":{"type":"rect","color":"#ececec"},"encoding":{"x":{"field":"slot","type":"quantitative"},"x2":{"field":"slot2"},"y":{"field":"row","type":"quantitative"},"y2":{"field":"row2"}}},
{"data":{"values":[
{"slot":0,"row":0,"icon":"pencil","kind":"ink"},{"slot":1,"row":0,"icon":"indicators","kind":"ink"},{"slot":2,"row":0,"icon":"grid","kind":"ink"},{"slot":3,"row":0,"icon":"trend","kind":"ink"},{"slot":4,"row":0,"icon":"plus","kind":"ink"},{"slot":5,"row":0,"icon":"alarm","kind":"ink"},{"slot":6,"row":0,"icon":"candles","kind":"ink"},{"slot":7,"row":0,"icon":"rewind","kind":"ink"},{"slot":8,"row":0,"icon":"layers","kind":"ink"},{"slot":9,"row":0,"icon":"dots","kind":"ink"},{"slot":10.18,"row":0,"icon":"undo","kind":"ink"},{"slot":11.2,"row":0,"icon":"redo","kind":"muted"},{"slot":12.21,"row":0,"icon":"collapse","kind":"ink"},{"slot":13.21,"row":0,"icon":"crop","kind":"ink"},{"slot":14.41,"row":0,"icon":"bulb","kind":"ink"},{"slot":15.4,"row":0,"icon":"share","kind":"ink"}
]},"mark":{"type":"point","filled":false,"size":1156,"strokeWidth":2.4,"opacity":1},"encoding":{"x":{"field":"slot","type":"quantitative"},"y":{"field":"row","type":"quantitative"},"shape":{"field":"icon","type":"nominal"},"color":{"field":"kind","type":"nominal"}}},
{"data":{"values":[{"slot":5.15,"row":-0.257}]},"mark":{"type":"point","filled":true,"color":"#e9364c","size":70,"opacity":1},"encoding":{"x":{"field":"slot","type":"quantitative"},"y":{"field":"row","type":"quantitative"}}},
{"data":{"values":[{"slot":-10.36,"row":0,"label":"ADAUSD","kind":"ink"},{"slot":-8.61,"row":0,"label":"4h","kind":"ink"},{"slot":-10.36,"row":-1,"label":"MOU","kind":"faint"},{"slot":-10.36,"row":1,"label":"XLE/SPY","kind":"faint"}]},"mark":{"type":"text","align":"left","baseline":"middle","fontSize":24,"clip":true},"encoding":{"x":{"field":"slot","type":"quantitative"},"y":{"field":"row","type":"quantitative"},"text":{"field":"label"},"color":{"field":"kind","type":"nominal"}}},
{"data":{"values":[{"slot":12.88,"row":0.514,"label":"@ SupremeDelicacy"}]},"mark":{"type":"text","align":"left","baseline":"middle","fontSize":24,"color":"#bdbdbd","opacity":0.85},"encoding":{"x":{"field":"slot","type":"quantitative"},"y":{"field":"row","type":"quantitative"},"text":{"field":"label"}}},
{"data":{"values":[{"slot":12.6,"row":0.514}]},"mark":{"type":"point","shape":"diamond","filled":false,"color":"#c8c8c8","size":500,"strokeWidth":2,"opacity":1},"encoding":{"x":{"field":"slot","type":"quantitative"},"y":{"field":"row","type":"quantitative"}}}
]}
]
}
